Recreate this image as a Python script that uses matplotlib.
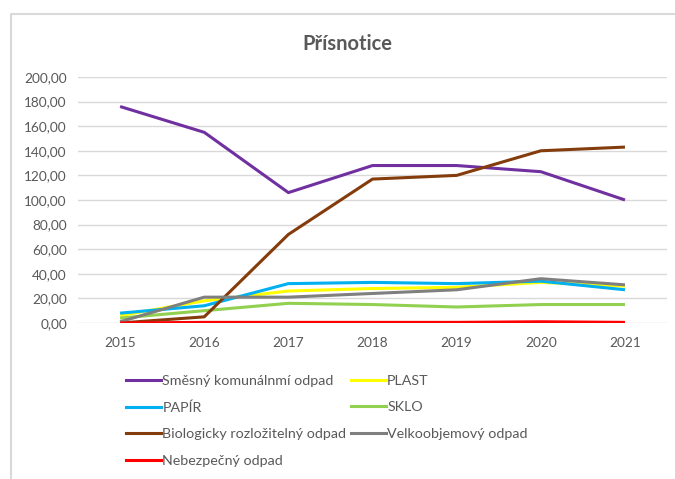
import matplotlib.pyplot as plt
from matplotlib.lines import Line2D

plt.rcParams['font.family'] = ['Lato', 'DejaVu Sans']

years = ['2015', '2016', '2017', '2018', '2019', '2020', '2021']

smesny = [176, 155, 106, 128, 128, 123, 100]
plast = [6, 18, 26, 28, 29, 33, 30]
papir = [8, 14, 32, 33, 32, 34, 27]
sklo = [4, 10, 16, 15, 13, 15, 15]
bio = [0, 5, 72, 117, 120, 140, 143]
velko = [1, 21, 21, 24, 27, 36, 31]
nebezpecny = [0, 0.5, 0.5, 0.5, 0.5, 1, 0.5]

series = [
    ('Směsný komunálnmí odpad', smesny, '#7030A0'),
    ('PLAST', plast, '#FFFF00'),
    ('PAPÍR', papir, '#00B0F0'),
    ('SKLO', sklo, '#92D050'),
    ('Biologicky rozložitelný odpad', bio, '#843C0C'),
    ('Velkoobjemový odpad', velko, '#7F7F7F'),
    ('Nebezpečný odpad', nebezpecny, '#FF0000'),
]

fig = plt.figure(figsize=(6.75, 4.79), dpi=100)
ax = fig.add_axes([0.1156, 0.3257, 0.8726, 0.5136])

x = range(len(years))
lines = {}
for name, vals, col in series:
    ln, = ax.plot(x, vals, color=col, lw=2.2, solid_capstyle='butt', label=name)
    lines[name] = ln

ax.set_xlim(-0.5, 6.5)
ax.set_ylim(0, 200)
ax.set_yticks(range(0, 201, 20))
ax.set_yticklabels([f'{v:.2f}'.replace('.', ',') for v in range(0, 201, 20)])
ax.set_xticks(list(x))
ax.set_xticklabels(years)
ax.tick_params(length=0, labelsize=9.8, colors='#595959')
ax.tick_params(axis='x', pad=10)
ax.tick_params(axis='y', pad=8)
ax.grid(axis='y', color='#D9D9D9', lw=1)
ax.set_axisbelow(True)
for s in ax.spines.values():
    s.set_visible(False)

fig.text(0.514, 0.908, 'Přísnotice', ha='center', va='center',
         fontsize=14.5, fontweight='bold', color='#595959')

# legend, filled row by row like Excel
order = ['Směsný komunálnmí odpad', 'PAPÍR', 'Biologicky rozložitelný odpad',
         'Nebezpečný odpad', 'PLAST', 'SKLO', 'Velkoobjemový odpad']
handles = [Line2D([], [], color=lines[n].get_color(), lw=2.2) for n in order]
fig.legend(handles, order, loc='upper left', bbox_to_anchor=(0.176, 0.233),
           ncol=2, frameon=False, fontsize=10.3, labelcolor='#595959',
           handlelength=2.45, handletextpad=0.1, columnspacing=0.3,
           labelspacing=1.02, borderpad=0)

# chart border
fig.add_artist(Line2D([11 / 675, 11 / 675, 1], [0, 1 - 14 / 479, 1 - 14 / 479],
                      transform=fig.transFigure, color='#D9D9D9', lw=1.5))

fig.savefig('out.png', dpi=100)
